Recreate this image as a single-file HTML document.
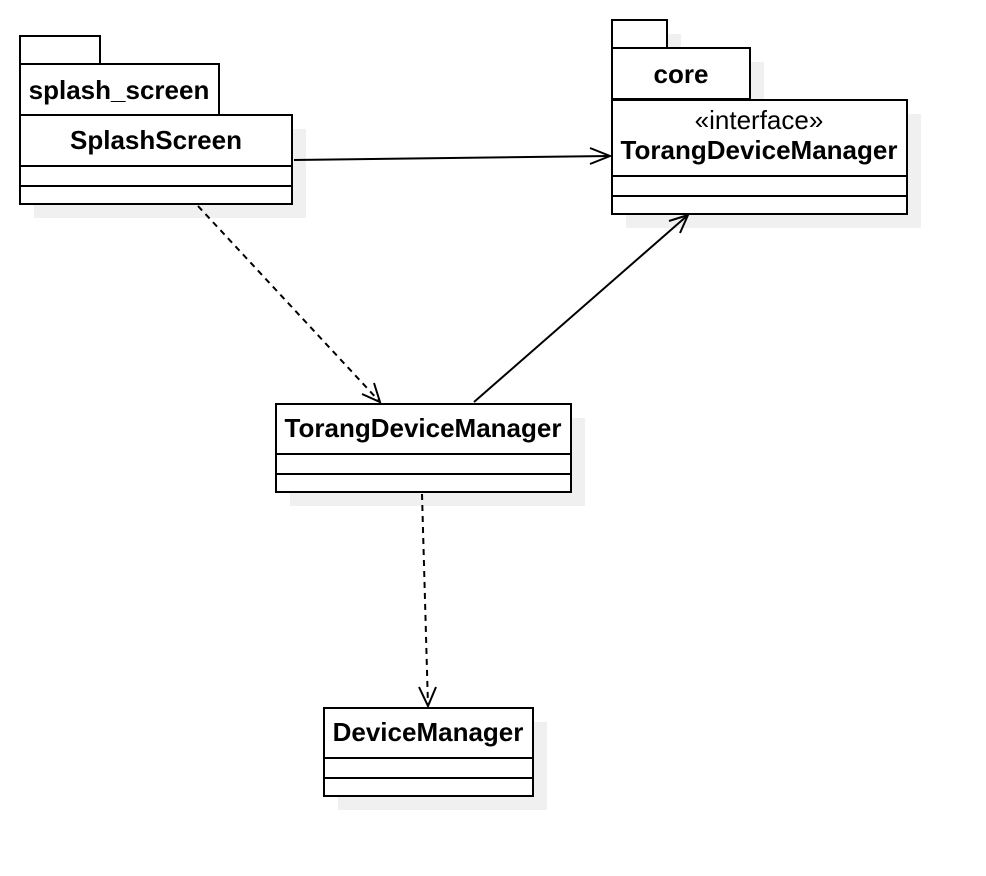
<!DOCTYPE html>
<html><head><style>body{margin:0;background:#fff}svg{display:block}text{font-family:"Liberation Sans",sans-serif;font-size:26px;text-anchor:middle}</style></head><body>
<svg width="986" height="876" viewBox="0 0 986 876">
<g fill="#f0f0f0">
<rect x="34" y="129" width="272" height="89"/>
<rect x="626" y="34" width="55" height="28"/><rect x="626" y="62" width="138" height="51"/><rect x="626" y="114" width="295" height="114"/>
<rect x="290" y="418" width="295" height="88"/>
<rect x="338" y="722" width="209" height="88"/>
</g>
<g fill="#fff" stroke="#000" stroke-width="2">
<rect x="20" y="36" width="80" height="28"/><rect x="20" y="64" width="199" height="51"/><rect x="20" y="115" width="272" height="89"/>
<line x1="20" y1="166" x2="292" y2="166"/><line x1="20" y1="186" x2="292" y2="186"/>
<rect x="612" y="20" width="55" height="28"/><rect x="612" y="48" width="138" height="51"/><rect x="612" y="100" width="295" height="114"/>
<line x1="612" y1="176" x2="907" y2="176"/><line x1="612" y1="196" x2="907" y2="196"/>
<rect x="276" y="404" width="295" height="88"/>
<line x1="276" y1="454" x2="571" y2="454"/><line x1="276" y1="474" x2="571" y2="474"/>
<rect x="324" y="708" width="209" height="88"/>
<line x1="324" y1="758" x2="533" y2="758"/><line x1="324" y1="778" x2="533" y2="778"/>
</g>
<g fill="none" stroke="#000" stroke-width="2">
<line x1="294" y1="160" x2="610" y2="156"/><polyline points="590,148 610,156 590,164"/>
<line x1="198" y1="206" x2="380" y2="402" stroke-dasharray="6,5"/><polyline points="362,394 380,402 374,383"/>
<line x1="474" y1="402" x2="688" y2="215"/><polyline points="669,221 688,215 680,233"/>
<line x1="422" y1="494" x2="428" y2="706" stroke-dasharray="6,5"/><polyline points="419,687 428,706 436,687"/>
</g>
<g font-weight="bold">
<text x="119" y="99">splash_screen</text>
<text x="156" y="149">SplashScreen</text>
<text x="681" y="83">core</text>
<text x="759" y="159">TorangDeviceManager</text>
<text x="423" y="437">TorangDeviceManager</text>
<text x="428" y="741">DeviceManager</text>
</g>
<text x="759" y="129">«interface»</text>
</svg>
</body></html>
